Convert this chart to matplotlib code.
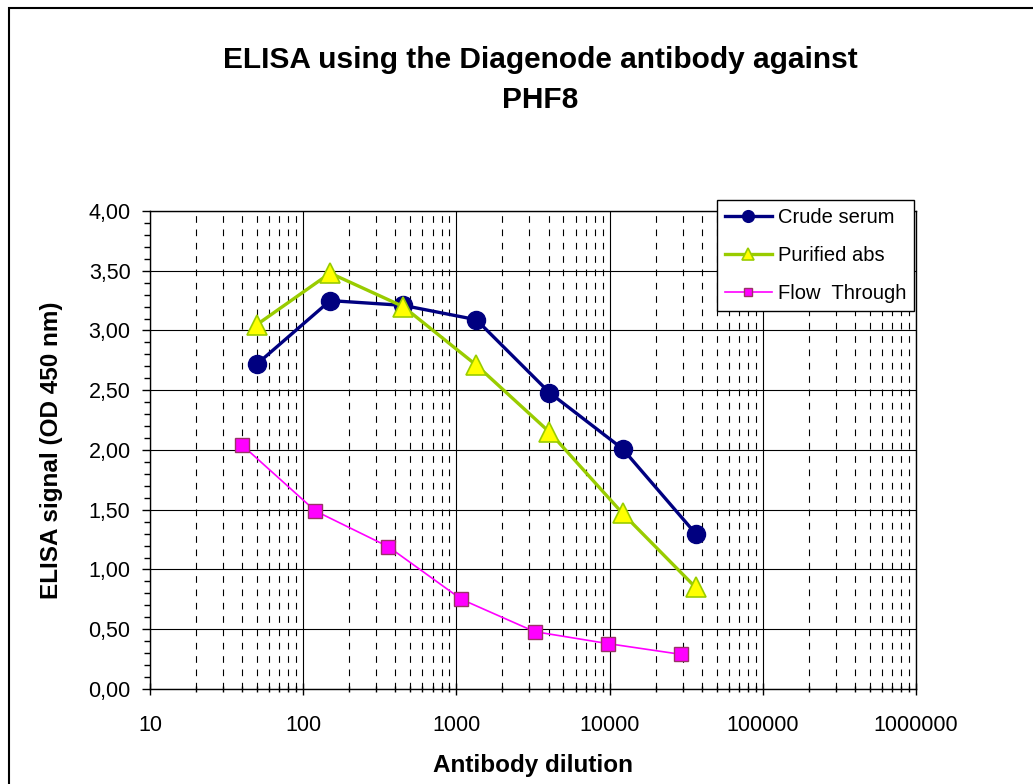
import matplotlib.pyplot as plt
import matplotlib.ticker as mticker
from matplotlib.patches import Rectangle
import numpy as np

plt.rcParams['font.family'] = ['Liberation Sans', 'DejaVu Sans']

crude_x = [50, 150, 450, 1350, 4050, 12150, 36450]
crude_y = [2.72, 3.25, 3.21, 3.09, 2.48, 2.01, 1.30]
purified_x = [50, 150, 450, 1350, 4050, 12150, 36450]
purified_y = [3.05, 3.48, 3.20, 2.71, 2.15, 1.47, 0.85]
flow_x = [40, 120, 360, 1080, 3240, 9720, 29160]
flow_y = [2.04, 1.49, 1.19, 0.75, 0.48, 0.38, 0.29]

fig = plt.figure(figsize=(10.33, 7.84), dpi=100)
ax = fig.add_axes([0.1452, 0.1212, 0.7415, 0.6097])

# outer frame of the chart area
fig.patches.append(Rectangle((9 / 1033, -0.05), 1.1, 1 - 8 / 784 + 0.05,
                             transform=fig.transFigure, fill=False,
                             edgecolor='black', linewidth=1.5))

ax.set_xscale('log')
ax.set_xlim(10, 1e6)
ax.set_ylim(0, 4)

ax.xaxis.set_major_locator(mticker.LogLocator(base=10, numticks=10))
ax.xaxis.set_minor_locator(mticker.LogLocator(base=10, subs=np.arange(2, 10), numticks=20))
ax.xaxis.set_major_formatter(mticker.FuncFormatter(lambda v, p: f"{v:.0f}"))
ax.xaxis.set_minor_formatter(mticker.NullFormatter())
ax.yaxis.set_major_locator(mticker.MultipleLocator(0.5))
ax.yaxis.set_minor_locator(mticker.MultipleLocator(0.1))
ax.yaxis.set_major_formatter(mticker.FuncFormatter(lambda v, p: f"{v:.2f}".replace('.', ',')))

ax.grid(which='major', axis='both', color='black', linewidth=0.8, linestyle='-')
ax.grid(which='minor', axis='x', color='black', linewidth=0.8, linestyle=(0, (6, 6)))
ax.set_axisbelow(True)

ax.tick_params(axis='both', which='major', labelsize=15.5, length=6, width=1, direction='out')
ax.tick_params(axis='y', which='major', pad=8)
ax.tick_params(axis='y', which='minor', length=4, width=1, direction='out')
ax.tick_params(axis='x', which='minor', length=5, width=1, direction='inout')
ax.tick_params(axis='x', which='major', direction='inout', length=8, pad=15)
for s in ax.spines.values():
    s.set_linewidth(1)

ax.plot(crude_x, crude_y, color='#000080', linewidth=2.4, marker='o',
        markersize=13, markerfacecolor='#000080', markeredgecolor='#000080',
        label='Crude serum')
ax.plot(purified_x, purified_y, color='#99CC00', linewidth=2.4, marker='^',
        markersize=14, markerfacecolor='#FFFF00', markeredgecolor='#99CC00',
        markeredgewidth=1.2, label='Purified abs')
ax.plot(flow_x, flow_y, color='#FF00FF', linewidth=1.2, marker='s',
        markersize=9.5, markerfacecolor='#FF00FF', markeredgecolor='#993366',
        markeredgewidth=1.0, label='Flow  Through')

leg = ax.legend(loc='upper right', bbox_to_anchor=(914 / 1033, 1 - 200 / 784),
                bbox_transform=fig.transFigure, fontsize=14.5, frameon=True,
                fancybox=False, edgecolor='black', framealpha=1,
                borderpad=0.4, labelspacing=0.95, handlelength=2.3,
                handletextpad=0.3, markerscale=0.65, borderaxespad=0)
leg.get_frame().set_linewidth(1)

ax.set_xlabel('Antibody dilution', fontsize=17.5, fontweight='bold', labelpad=13)
ax.set_ylabel('ELISA signal (OD 450 nm)', fontsize=17.5, fontweight='bold', labelpad=18)

fig.text(0.523, 1 - 80 / 784, 'ELISA using the Diagenode antibody against\nPHF8',
         ha='center', va='center', fontsize=21.5, fontweight='bold', linespacing=1.5)

fig.savefig('out.png', dpi=100)
